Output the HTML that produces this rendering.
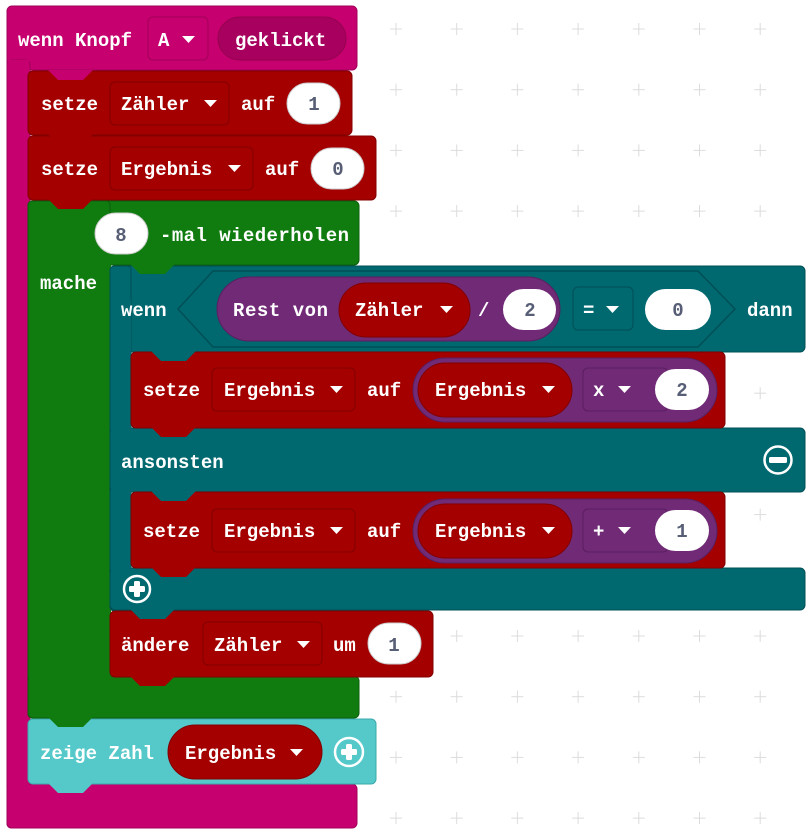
<!DOCTYPE html>
<html><head><meta charset="utf-8"><style>
html,body{margin:0;padding:0;background:#fff;}
svg{display:block;}
text{font-family:"Liberation Mono",monospace;font-weight:bold;font-size:19px;fill:#fff;}
.n{fill:#575E75;text-anchor:middle;}
</style></head><body>
<svg width="807" height="831" viewBox="0 0 807 831" xmlns="http://www.w3.org/2000/svg">
<defs>
<pattern id="gp" patternUnits="userSpaceOnUse" x="365.65" y="-1.35" width="60.7" height="60.7">
<line x1="24.35" y1="30.35" x2="36.35" y2="30.35" stroke="#dcdcdc" stroke-width="1"/>
<line x1="30.35" y1="24.35" x2="30.35" y2="36.35" stroke="#dcdcdc" stroke-width="1"/>
</pattern>
</defs>
<rect x="365" y="0" width="442" height="831" fill="url(#gp)"/>
<!-- pink hat -->
<g fill="#C6006E" stroke="#A3005A" stroke-width="1">
<rect x="7" y="6" width="350" height="64" rx="5"/>
<rect x="7" y="60" width="23" height="768" rx="4"/>
<rect x="7" y="784" width="350" height="44" rx="5"/>
</g>
<rect x="8" y="60" width="21" height="740" fill="#C6006E"/>
<!-- green loop -->
<g fill="#107C10" stroke="#0B5E0B" stroke-width="1">
<rect x="28" y="201" width="331" height="64" rx="5"/>
<rect x="28" y="201" width="82" height="517" rx="4"/>
<rect x="28" y="676" width="331" height="42" rx="5"/>
</g>
<rect x="29" y="240" width="82" height="470" fill="#107C10"/>
<!-- teal if -->
<g fill="#006970" stroke="#004F55" stroke-width="1">
<rect x="110" y="266" width="695" height="86" rx="5"/>
<rect x="110" y="266" width="21" height="345" rx="4"/>
<rect x="110" y="428" width="695" height="64" rx="5"/>
<rect x="110" y="568" width="695" height="42" rx="5"/>
</g>
<rect x="111" y="300" width="20" height="300" fill="#006970"/>
<!-- red statements -->
<g fill="#A40000" stroke="#820000" stroke-width="1">
<rect x="28" y="71" width="324" height="64" rx="5"/>
<rect x="28" y="136" width="348" height="64" rx="5"/>
<rect x="131" y="352" width="594" height="76" rx="5"/>
<rect x="131" y="492" width="594" height="76" rx="5"/>
<rect x="110" y="611" width="323" height="66" rx="5"/>
</g>
<rect x="28" y="719" width="348" height="65" rx="5" fill="#55C9CA" stroke="#3BA9AA"/>
<!-- tabs -->
<g>
<polygon points="48,70 58,80 83,80 93,70" fill="#C6006E"/>
<polygon points="48,134 58,144 83,144 93,134" fill="#A40000"/>
<polygon points="48,199 58,209 83,209 93,199" fill="#A40000"/>
<polygon points="130,264 140,274 165,274 175,264" fill="#107C10"/>
<polygon points="151,351 161,361 186,361 196,351" fill="#006970"/>
<polygon points="151,427 161,437 186,437 196,427" fill="#A40000"/>
<polygon points="151,491 161,501 186,501 196,491" fill="#006970"/>
<polygon points="151,567 161,577 186,577 196,567" fill="#A40000"/>
<polygon points="130,609 140,619 165,619 175,609" fill="#006970"/>
<polygon points="130,676 140,686 165,686 175,676" fill="#A40000"/>
<polygon points="48,717 58,727 83,727 93,717" fill="#107C10"/>
<polygon points="48,783 58,793 83,793 93,783" fill="#55C9CA"/>
</g>
<!-- hat contents -->
<text x="18" y="46">wenn Knopf</text>
<rect x="148" y="17" width="60" height="43" rx="5" fill="#C6006E" stroke="#A3005A"/>
<text x="158" y="46">A</text>
<rect x="218" y="17" width="128" height="43" rx="21.5" fill="#A8005E" stroke="#95004F"/>
<text x="235" y="46">geklickt</text>
<!-- setze Zähler -->
<text x="41" y="110">setze</text>
<rect x="110" y="82" width="119" height="43" rx="5" fill="#A40000" stroke="#820000"/>
<text x="121" y="110">Zähler</text>
<text x="241" y="110">auf</text>
<rect x="287" y="83" width="53" height="41" rx="20.5" fill="#fff" stroke="#ccc"/>
<text class="n" x="314" y="110">1</text>
<!-- setze Ergebnis -->
<text x="41" y="175">setze</text>
<rect x="110" y="147" width="143" height="43" rx="5" fill="#A40000" stroke="#820000"/>
<text x="121" y="175">Ergebnis</text>
<text x="265" y="175">auf</text>
<rect x="311" y="148" width="53" height="41" rx="20.5" fill="#fff" stroke="#ccc"/>
<text class="n" x="338" y="175">0</text>
<!-- loop -->
<rect x="95" y="213" width="53" height="41" rx="20.5" fill="#fff" stroke="#ccc"/>
<text class="n" x="121" y="241">8</text>
<text x="160" y="241" textLength="189">-mal wiederholen</text>
<text x="40" y="289">mache</text>
<!-- if -->
<text x="121" y="316">wenn</text>
<polygon points="213,271 698,271 735,309 698,347 213,347 178,309" fill="none" stroke="#004F55" stroke-width="1.5"/>
<rect x="217" y="277" width="343" height="64" rx="32" fill="#702A76" stroke="#5A1F60"/>
<text x="233" y="316" textLength="95">Rest von</text>
<rect x="339" y="283" width="131" height="54" rx="27" fill="#A40000" stroke="#820000"/>
<text x="355" y="316">Zähler</text>
<text x="478" y="316">/</text>
<rect x="503" y="289" width="53" height="41" rx="20.5" fill="#fff"/>
<text class="n" x="530" y="316">2</text>
<rect x="573" y="287" width="60" height="43" rx="5" fill="#006970" stroke="#004F55"/>
<text x="583" y="316">=</text>
<rect x="645" y="289" width="66" height="41" rx="20.5" fill="#fff"/>
<text class="n" x="678" y="316">0</text>
<text x="747" y="316">dann</text>
<!-- inner setze 1 -->
<text x="143" y="396">setze</text>
<rect x="212" y="368" width="143" height="43" rx="5" fill="#A40000" stroke="#820000"/>
<text x="224" y="396">Ergebnis</text>
<text x="367" y="396">auf</text>
<rect x="413" y="358" width="304" height="64" rx="32" fill="#702A76" stroke="#5A1F60"/>
<rect x="418" y="363" width="154" height="54" rx="27" fill="#A40000" stroke="#820000"/>
<text x="435" y="396">Ergebnis</text>
<rect x="583" y="368" width="85" height="43" rx="5" fill="#702A76" stroke="#5A1F60"/>
<text x="593" y="396">x</text>
<rect x="655" y="369" width="54" height="41" rx="20.5" fill="#fff"/>
<text class="n" x="682" y="396">2</text>
<text x="121" y="468">ansonsten</text>
<circle cx="778" cy="460" r="13.5" fill="none" stroke="#fff" stroke-width="2.5"/>
<rect x="769" y="457" width="18" height="6" rx="1.5" fill="#fff"/>
<!-- inner setze 2 -->
<text x="143" y="537">setze</text>
<rect x="212" y="509" width="143" height="43" rx="5" fill="#A40000" stroke="#820000"/>
<text x="224" y="537">Ergebnis</text>
<text x="367" y="537">auf</text>
<rect x="413" y="499" width="304" height="64" rx="32" fill="#702A76" stroke="#5A1F60"/>
<rect x="418" y="504" width="154" height="54" rx="27" fill="#A40000" stroke="#820000"/>
<text x="435" y="537">Ergebnis</text>
<rect x="583" y="509" width="85" height="43" rx="5" fill="#702A76" stroke="#5A1F60"/>
<text x="593" y="537">+</text>
<rect x="655" y="510" width="54" height="41" rx="20.5" fill="#fff"/>
<text class="n" x="682" y="537">1</text>
<circle cx="137" cy="589" r="13" fill="none" stroke="#fff" stroke-width="2.5"/>
<rect x="129" y="586" width="16" height="6" rx="1.5" fill="#fff"/>
<rect x="134" y="581" width="6" height="16" rx="1.5" fill="#fff"/>
<!-- ändere -->
<text x="121" y="651">ändere</text>
<rect x="203" y="622" width="119" height="43" rx="5" fill="#A40000" stroke="#820000"/>
<text x="214" y="651">Zähler</text>
<text x="333" y="651">um</text>
<rect x="368" y="623" width="53" height="41" rx="20.5" fill="#fff" stroke="#ccc"/>
<text class="n" x="394" y="651">1</text>
<!-- zeige Zahl -->
<text x="40" y="759">zeige Zahl</text>
<rect x="168" y="725" width="154" height="54" rx="27" fill="#A40000" stroke="#820000"/>
<text x="185" y="759">Ergebnis</text>
<circle cx="349" cy="752" r="14" fill="none" stroke="#fff" stroke-width="2.5"/>
<rect x="341" y="749" width="16" height="6" rx="1.5" fill="#fff"/>
<rect x="346" y="744" width="6" height="16" rx="1.5" fill="#fff"/>
<!-- dropdown arrows -->
<g fill="#fff">
<polygon points="182,36 195,36 188.5,43"/>
<polygon points="204,100 217,100 210.5,107"/>
<polygon points="228,165 241,165 234.5,172"/>
<polygon points="440,306 453,306 446.5,313"/>
<polygon points="606,306 619,306 612.5,313"/>
<polygon points="330,386 343,386 336.5,393"/>
<polygon points="542,386 555,386 548.5,393"/>
<polygon points="618,386 631,386 624.5,393"/>
<polygon points="330,527 343,527 336.5,534"/>
<polygon points="542,527 555,527 548.5,534"/>
<polygon points="618,527 631,527 624.5,534"/>
<polygon points="297,641 310,641 303.5,648"/>
<polygon points="290,749 303,749 296.5,756"/>
</g>
</svg>
</body></html>
